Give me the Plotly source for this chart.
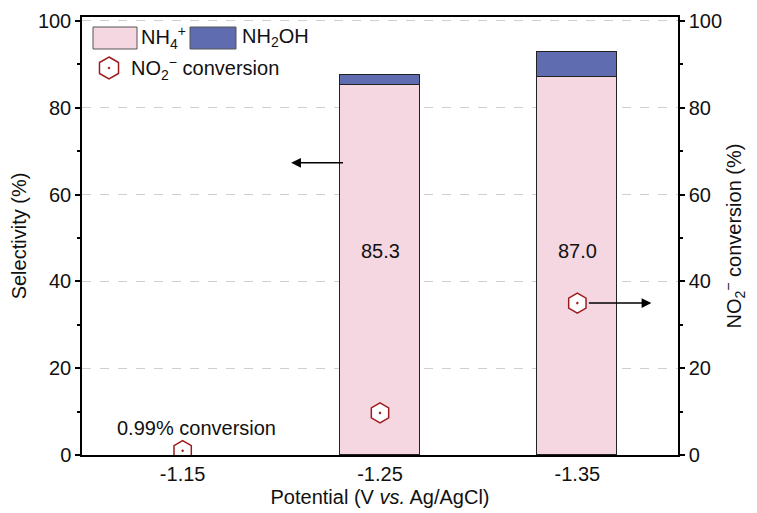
import plotly.graph_objects as go

# Data
potentials = ["-1.15", "-1.25", "-1.35"]
nh4_selectivity = [0.0, 85.3, 87.0]
nh2oh_selectivity = [0.0, 2.2, 5.9]
no2_conversion = [0.99, 9.7, 35.0]

xpos = list(range(len(potentials)))

PINK = "#F5D7E2"
BLUE = "#5F6CB0"
RED = "#9E1B1B"
TXT = "#111111"
FONT = "Liberation Sans, Arial, sans-serif"
FS = 20

W, H = 757, 513
L, R, T, B = 82, 678, 17, 455


def px(x):
    return (x - L) / (R - L)


def py(y):
    return (B - y) / (B - T)


def outline(values):
    # no outline for empty bars
    return [1 if v > 0 else 0 for v in values]


fig = go.Figure()

fig.add_trace(go.Bar(
    x=xpos, y=nh4_selectivity, name="NH4+", width=0.405,
    marker=dict(color=PINK, line=dict(color="#222222",
                                      width=outline(nh4_selectivity))),
    showlegend=False,
))
fig.add_trace(go.Bar(
    x=xpos, y=nh2oh_selectivity, name="NH2OH", width=0.405,
    marker=dict(color=BLUE, line=dict(color="#222222",
                                      width=outline(nh2oh_selectivity))),
    showlegend=False,
))
fig.add_trace(go.Scatter(
    x=xpos, y=no2_conversion, yaxis="y2", mode="markers",
    marker=dict(symbol="hexagon-dot", size=20, color="white",
                line=dict(color=RED, width=1.5)),
    showlegend=False, cliponaxis=True,
))

annotations = []
# selectivity values written inside the bars
for i, v in enumerate(nh4_selectivity):
    if v > 0:
        annotations.append(dict(x=xpos[i], y=47, xref="x", yref="y",
                                text=f"{v:.1f}", showarrow=False,
                                font=dict(size=FS, color=TXT)))

annotations.append(dict(x=0.07, y=6.3, xref="x", yref="y",
                        text=f"{no2_conversion[0]:.2f}% conversion",
                        showarrow=False, font=dict(size=FS, color=TXT)))

# arrows pointing to the relevant axes
annotations.append(dict(x=0.55, y=67.3, ax=0.82, ay=67.3, xref="x", yref="y",
                        axref="x", ayref="y", text="", showarrow=True,
                        arrowhead=2, arrowsize=1.3, arrowwidth=1.5,
                        arrowcolor="black"))
annotations.append(dict(x=2.375, y=no2_conversion[2], ax=xpos[2],
                        ay=no2_conversion[2], xref="x", yref="y2",
                        axref="x", ayref="y2", text="", showarrow=True,
                        arrowhead=2, arrowsize=1.3, arrowwidth=1.5,
                        arrowcolor="black", standoff=0, startstandoff=10))

# legend drawn by hand
shapes = [
    dict(type="rect", xref="paper", yref="paper",
         x0=px(93), x1=px(137), y0=py(49), y1=py(27),
         fillcolor=PINK, line=dict(color="#555555", width=1)),
    dict(type="rect", xref="paper", yref="paper",
         x0=px(190), x1=px(236), y0=py(49), y1=py(27),
         fillcolor=BLUE, line=dict(color="#555555", width=1)),
]
cx, cy, r = 109, 68, 11
c = 0.866 * r
pts = [(cx, cy - r), (cx + c, cy - r / 2), (cx + c, cy + r / 2),
       (cx, cy + r), (cx - c, cy + r / 2), (cx - c, cy - r / 2)]
path = "M " + " L ".join(f"{px(a):.5f},{py(b):.5f}" for a, b in pts) + " Z"
shapes.append(dict(type="path", xref="paper", yref="paper", path=path,
                   fillcolor="white", line=dict(color=RED, width=1.5)))
shapes.append(dict(type="circle", xref="paper", yref="paper",
                   x0=px(cx - 1), x1=px(cx + 1), y0=py(cy + 1), y1=py(cy - 1),
                   fillcolor=RED, line=dict(color=RED, width=0.5)))

annotations += [
    dict(x=px(139), y=py(38), xref="paper", yref="paper", xanchor="left",
         yanchor="middle", text="NH<sub>4</sub><sup>+</sup>", showarrow=False,
         font=dict(size=FS, color=TXT)),
    dict(x=px(240), y=py(38), xref="paper", yref="paper", xanchor="left",
         yanchor="middle", text="NH<sub>2</sub>OH", showarrow=False,
         font=dict(size=FS, color=TXT)),
    dict(x=px(129), y=py(68), xref="paper", yref="paper", xanchor="left",
         yanchor="middle", text="NO<sub>2</sub><sup>−</sup> conversion",
         showarrow=False, font=dict(size=FS, color=TXT)),
]

axis_common = dict(
    range=[0, 100.9], dtick=20, showline=True, linecolor="black",
    linewidth=1.5, ticks="outside", ticklen=5, tickwidth=1.5,
    tickcolor="black", tickfont=dict(size=FS, color=TXT),
    minor=dict(dtick=10, ticks="outside", ticklen=3, tickwidth=1.5,
               tickcolor="black", showgrid=False),
    zeroline=False, automargin=False,
)

fig.update_layout(
    width=W, height=H,
    margin=dict(l=L, r=W - R, t=T, b=H - B),
    plot_bgcolor="white", paper_bgcolor="white",
    font=dict(family=FONT, size=FS, color=TXT),
    barmode="stack", bargap=0.0,
    xaxis=dict(
        tickvals=xpos, ticktext=potentials, range=[-0.51, 2.51],
        showline=True, linecolor="black", linewidth=1.5, mirror=True,
        ticks="", tickfont=dict(size=FS, color=TXT), showgrid=False,
        zeroline=False, automargin=False,
        title=dict(text="Potential (V <i>vs.</i> Ag/AgCl)",
                   font=dict(size=FS), standoff=6),
    ),
    yaxis=dict(
        **axis_common, showgrid=True, gridcolor="#cfcfcf", griddash="dash",
        gridwidth=1,
        title=dict(text="Selectivity (%)", font=dict(size=FS), standoff=6),
    ),
    yaxis2=dict(
        **axis_common, overlaying="y", side="right", showgrid=False,
        title=dict(text="NO<sub>2</sub><sup>−</sup> conversion (%)",
                   font=dict(size=FS), standoff=6),
    ),
    shapes=shapes,
    annotations=annotations,
)

fig.write_html("out.html")
